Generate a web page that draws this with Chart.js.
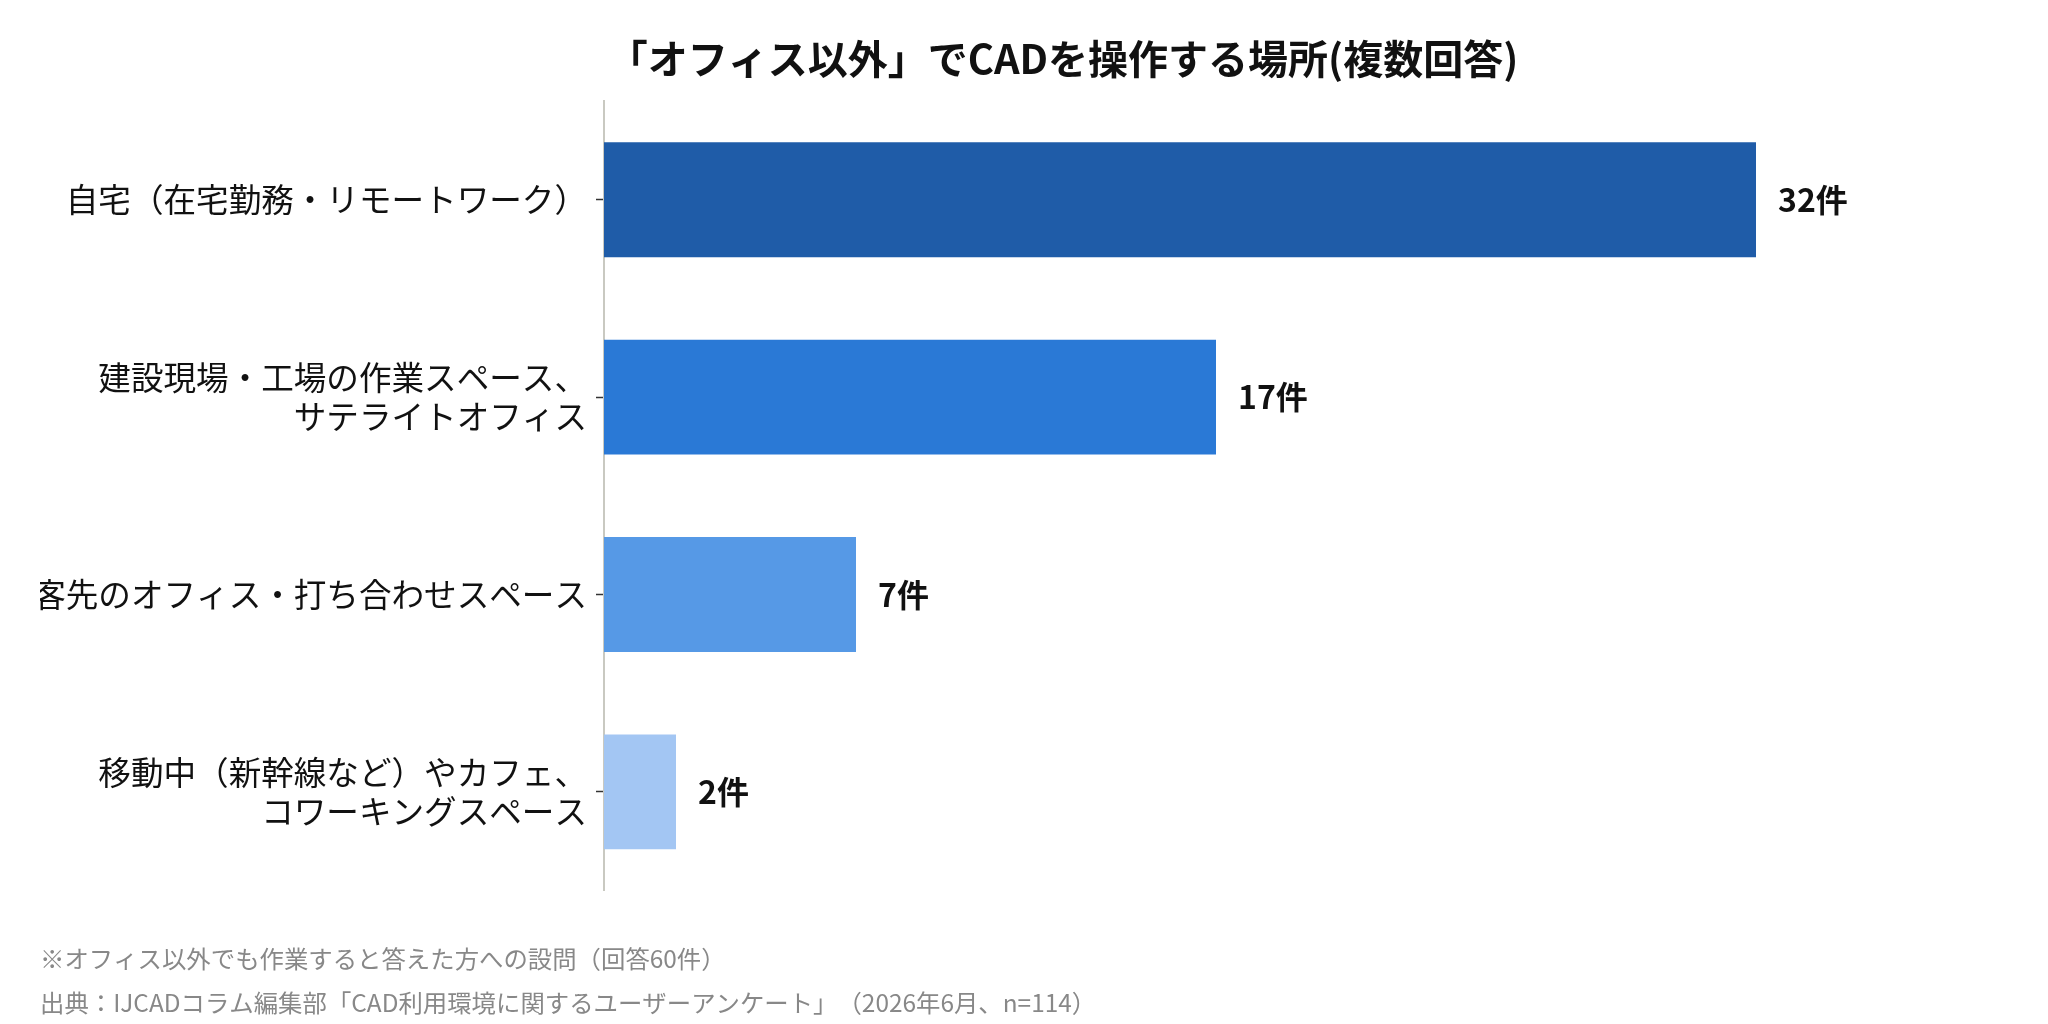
<!DOCTYPE html>
<html lang="ja">
<head>
<meta charset="utf-8">
<script src="https://cdn.jsdelivr.net/npm/chart.js@4"></script>
<style>
  body { margin: 0; background: #fff; }
  canvas { display: block; text-spacing-trim: space-all; }
</style>
</head>
<body>
<canvas id="place-chart" width="2048" height="1024" lang="ja"></canvas>
<script>
const chartTitle = "「オフィス以外」でCADを操作する場所(複数回答)";
const places = [
    ["自宅（在宅勤務・リモートワーク）"],
    ["建設現場・工場の作業スペース、", "サテライトオフィス"],
    ["客先のオフィス・打ち合わせスペース"],
    ["移動中（新幹線など）やカフェ、", "コワーキングスペース"]
];
const counts = [32, 17, 7, 2];
const valueSuffix = "件";
const barColors = ["#1f5ca8", "#2a79d6", "#5699e6", "#a3c6f3"];
const notes = [
    "※オフィス以外でも作業すると答えた方への設問（回答60件）",
    "出典：IJCADコラム編集部「CAD利用環境に関するユーザーアンケート」（2026年6月、n=114）"
];

const jpFont = '"Noto Sans CJK JP", "Noto Sans", sans-serif';

// title is placed by hand, the original is not centred on the canvas
const titlePlugin = {
    id: 'topTitle',
    afterDraw(chart) {
        const ctx = chart.ctx;
        ctx.save();
        ctx.font = 'bold 40px ' + jpFont;
        ctx.fillStyle = '#111';
        ctx.textAlign = 'center';
        ctx.textBaseline = 'middle';
        ctx.fillText(chartTitle, 1063, 59);
        ctx.restore();
    }
};

// "32件" etc. to the right of each bar
const valueLabels = {
    id: 'valueLabels',
    afterDatasetsDraw(chart) {
        const ctx = chart.ctx;
        const meta = chart.getDatasetMeta(0);
        ctx.save();
        ctx.font = 'bold 32px ' + jpFont;
        ctx.fillStyle = '#111';
        ctx.textAlign = 'left';
        ctx.textBaseline = 'middle';
        meta.data.forEach((bar, i) => {
            ctx.fillText(counts[i] + valueSuffix, bar.x + 22, bar.y);
        });
        ctx.restore();
    }
};

new Chart("place-chart", {
    type: "bar",
    data: {
        labels: places,
        datasets: [{
            data: counts,
            backgroundColor: barColors,
            borderWidth: 0,
            barPercentage: 0.582,
            categoryPercentage: 1
        }]
    },
    options: {
        indexAxis: 'y',
        responsive: false,
        devicePixelRatio: 1,
        animation: false,
        layout: {
            padding: { left: 40, right: 4, top: 101, bottom: 0 }
        },
        scales: {
            x: {
                display: false,
                min: 0,
                max: 40
            },
            y: {
                afterFit(scale) { scale.width = 564; },
                grid: {
                    offset: false,
                    drawOnChartArea: false,
                    drawTicks: true,
                    tickLength: 8,
                    tickColor: '#333',
                    tickWidth: 1.5
                },
                border: { display: true, color: '#c9c9c1', width: 2 },
                ticks: {
                    color: '#111',
                    padding: 9,
                    font: { family: jpFont, size: 32.6, lineHeight: 1.18 }
                }
            }
        },
        plugins: {
            legend: { display: false },
            tooltip: { enabled: false },
            title: { display: false },
            subtitle: {
                display: true,
                position: 'bottom',
                align: 'start',
                text: notes,
                color: '#888',
                font: { family: jpFont, size: 24.4, lineHeight: 1.77 },
                padding: { top: 47, bottom: 0 }
            }
        }
    },
    plugins: [titlePlugin, valueLabels]
});
</script>
</body>
</html>
